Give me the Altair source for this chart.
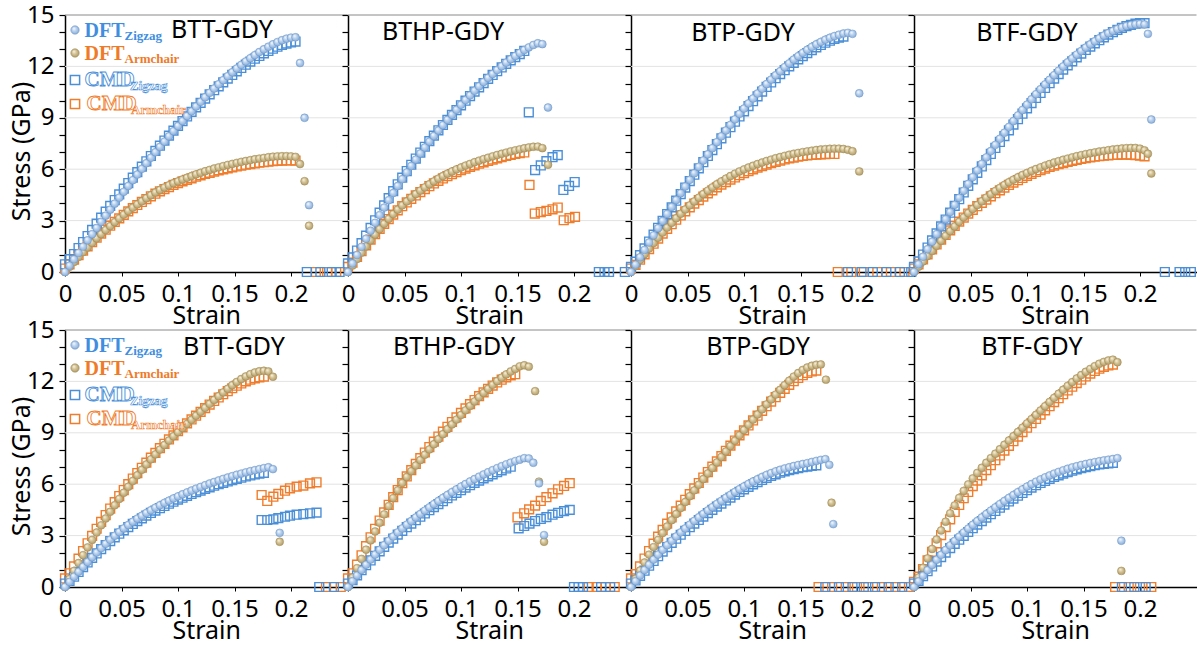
import altair as alt
import pandas as pd

# ---------------- data ----------------
STEP = 0.004  # strain increment of the simulations
X_TICKS = [0, 0.05, 0.1, 0.15, 0.2]
Y_TICKS = list(range(16))
GRID_Y = [3, 6, 9, 12]
NAMES = ["BTT-GDY", "BTHP-GDY", "BTP-GDY", "BTF-GDY"]

# ---- top row (loading along zigzag is the stiff one) ----
BTT_T_DFT_Z = [0, 0.37, 0.74, 1.11, 1.48, 1.85, 2.21, 2.57, 2.93, 3.29, 3.64, 3.99, 4.34, 4.68, 5.02, 5.36, 5.69, 6.02, 6.35, 6.67, 6.99, 7.30, 7.61, 7.92, 8.22, 8.52, 8.81, 9.10, 9.38, 9.66, 9.93, 10.20, 10.46, 10.71, 10.96, 11.20, 11.43, 11.66, 11.88, 12.09, 12.29, 12.48, 12.66, 12.84, 13.00, 13.15, 13.29, 13.42, 13.53, 13.62, 13.68, 13.70]
BTT_T_DFT_Z_TAIL_X = [0.208, 0.212, 0.216]
BTT_T_DFT_Z_TAIL_Y = [12.2, 9.0, 3.9]
BTT_T_DFT_A = [0, 0.30, 0.59, 0.88, 1.16, 1.43, 1.70, 1.96, 2.21, 2.45, 2.68, 2.91, 3.13, 3.35, 3.56, 3.76, 3.95, 4.13, 4.31, 4.48, 4.64, 4.79, 4.93, 5.06, 5.18, 5.29, 5.40, 5.50, 5.60, 5.70, 5.79, 5.88, 5.96, 6.04, 6.11, 6.18, 6.25, 6.31, 6.37, 6.43, 6.48, 6.53, 6.58, 6.62, 6.66, 6.70, 6.73, 6.75, 6.76, 6.76, 6.75, 6.72]
BTT_T_DFT_A_TAIL_X = [0.208, 0.212, 0.216]
BTT_T_DFT_A_TAIL_Y = [6.3, 5.3, 2.7]
BTT_T_CMD_Z = [0.45, 0.75, 1.05, 1.40, 1.75, 2.10, 2.46, 2.82, 3.17, 3.52, 3.86, 4.20, 4.53, 4.86, 5.19, 5.51, 5.83, 6.15, 6.46, 6.77, 7.07, 7.37, 7.67, 7.96, 8.25, 8.53, 8.81, 9.08, 9.35, 9.61, 9.87, 10.12, 10.37, 10.61, 10.84, 11.07, 11.29, 11.50, 11.71, 11.91, 12.10, 12.28, 12.45, 12.61, 12.76, 12.90, 13.03, 13.15, 13.25, 13.33, 13.40, 13.45]
BTT_T_CMD_Z_ZERO = [0.214, 0.226, 0.236, 0.243]
BTT_T_CMD_A = [0.2, 0.45, 0.72, 0.98, 1.24, 1.50, 1.75, 2.00, 2.24, 2.47, 2.70, 2.92, 3.13, 3.34, 3.54, 3.73, 3.91, 4.09, 4.26, 4.42, 4.57, 4.71, 4.84, 4.96, 5.08, 5.19, 5.29, 5.38, 5.47, 5.56, 5.64, 5.72, 5.79, 5.86, 5.93, 5.99, 6.05, 6.11, 6.16, 6.21, 6.26, 6.30, 6.34, 6.38, 6.41, 6.44, 6.47, 6.49, 6.50, 6.51, 6.51, 6.50]
BTT_T_CMD_A_ZERO = [0.222, 0.232, 0.240]

BTHP_T_DFT_Z = [0, 0.50, 0.99, 1.47, 1.94, 2.41, 2.87, 3.32, 3.76, 4.19, 4.61, 5.02, 5.42, 5.81, 6.19, 6.56, 6.92, 7.27, 7.61, 7.94, 8.26, 8.57, 8.88, 9.18, 9.47, 9.76, 10.04, 10.31, 10.58, 10.84, 11.09, 11.33, 11.56, 11.79, 12.01, 12.22, 12.42, 12.61, 12.79, 12.96, 13.11, 13.25, 13.35, 13.30]
BTHP_T_DFT_Z_TAIL_X = [0.177]
BTHP_T_DFT_Z_TAIL_Y = [9.6]
BTHP_T_DFT_A = [0, 0.38, 0.76, 1.13, 1.49, 1.84, 2.18, 2.50, 2.81, 3.10, 3.38, 3.64, 3.89, 4.12, 4.34, 4.55, 4.75, 4.94, 5.12, 5.29, 5.45, 5.60, 5.74, 5.87, 5.99, 6.10, 6.21, 6.31, 6.41, 6.50, 6.59, 6.67, 6.75, 6.83, 6.90, 6.97, 7.04, 7.10, 7.16, 7.22, 7.27, 7.31, 7.32, 7.23]
BTHP_T_DFT_A_TAIL_X = [0.177]
BTHP_T_DFT_A_TAIL_Y = [6.26]
BTHP_T_CMD_Z = [0.5, 0.85, 1.25, 1.68, 2.12, 2.57, 3.02, 3.46, 3.89, 4.31, 4.72, 5.12, 5.51, 5.89, 6.26, 6.62, 6.97, 7.31, 7.64, 7.96, 8.27, 8.58, 8.88, 9.17, 9.45, 9.73, 10.00, 10.27, 10.53, 10.78, 11.03, 11.27, 11.50, 11.72, 11.94, 12.15, 12.35, 12.54, 12.72, 12.90]
BTHP_T_CMD_Z_TAIL_X = [0.160, 0.1656, 0.1706, 0.1756, 0.181, 0.1856, 0.1906, 0.1956, 0.2006]
BTHP_T_CMD_Z_TAIL_Y = [9.32, 5.95, 6.22, 6.47, 6.70, 6.82, 4.79, 5.02, 5.25]
BTHP_T_CMD_Z_ZERO = [0.222, 0.227, 0.231, 0.245]
BTHP_T_CMD_A = [0.3, 0.55, 0.88, 1.22, 1.56, 1.89, 2.21, 2.52, 2.81, 3.09, 3.35, 3.60, 3.84, 4.06, 4.27, 4.47, 4.66, 4.84, 5.01, 5.17, 5.32, 5.46, 5.59, 5.71, 5.83, 5.94, 6.04, 6.14, 6.23, 6.32, 6.40, 6.48, 6.56, 6.63, 6.70, 6.77, 6.83, 6.89, 6.94, 6.98]
BTHP_T_CMD_A_TAIL_X = [0.1606, 0.1653, 0.1706, 0.1756, 0.181, 0.1856, 0.1909, 0.196, 0.2009]
BTHP_T_CMD_A_TAIL_Y = [5.08, 3.41, 3.50, 3.57, 3.66, 3.76, 3.02, 3.14, 3.22]

BTP_T_DFT_Z = [0, 0.43, 0.86, 1.29, 1.72, 2.14, 2.56, 2.98, 3.39, 3.80, 4.20, 4.60, 4.99, 5.38, 5.76, 6.14, 6.51, 6.87, 7.23, 7.58, 7.92, 8.26, 8.59, 8.91, 9.23, 9.54, 9.84, 10.13, 10.42, 10.70, 10.97, 11.23, 11.48, 11.72, 11.96, 12.18, 12.40, 12.60, 12.79, 12.97, 13.14, 13.29, 13.43, 13.56, 13.67, 13.77, 13.85, 13.92, 13.96, 13.90]
BTP_T_DFT_Z_TAIL_X = [0.202]
BTP_T_DFT_Z_TAIL_Y = [10.43]
BTP_T_DFT_A = [0, 0.35, 0.70, 1.04, 1.37, 1.69, 2.00, 2.30, 2.59, 2.87, 3.14, 3.40, 3.65, 3.89, 4.12, 4.34, 4.55, 4.75, 4.94, 5.12, 5.29, 5.45, 5.60, 5.74, 5.87, 5.99, 6.10, 6.20, 6.30, 6.39, 6.48, 6.56, 6.64, 6.71, 6.78, 6.84, 6.90, 6.95, 7.00, 7.04, 7.08, 7.12, 7.15, 7.17, 7.19, 7.20, 7.20, 7.18, 7.13, 7.05]
BTP_T_DFT_A_TAIL_X = [0.202]
BTP_T_DFT_A_TAIL_Y = [5.87]
BTP_T_CMD_Z = [0.3, 0.6, 0.98, 1.38, 1.78, 2.18, 2.58, 2.98, 3.38, 3.77, 4.16, 4.55, 4.93, 5.31, 5.68, 6.05, 6.41, 6.77, 7.12, 7.46, 7.80, 8.13, 8.45, 8.77, 9.08, 9.38, 9.68, 9.97, 10.25, 10.53, 10.80, 11.06, 11.31, 11.55, 11.78, 12.00, 12.21, 12.41, 12.60, 12.78, 12.95, 13.11, 13.25, 13.38, 13.50, 13.60, 13.68, 13.74]
BTP_T_CMD_Z_ZERO = [0.192, 0.204, 0.214, 0.226, 0.238, 0.248]
BTP_T_CMD_A = [0.2, 0.42, 0.72, 1.03, 1.34, 1.65, 1.95, 2.24, 2.52, 2.79, 3.05, 3.30, 3.54, 3.77, 3.99, 4.20, 4.40, 4.59, 4.77, 4.94, 5.10, 5.25, 5.39, 5.52, 5.65, 5.77, 5.88, 5.99, 6.09, 6.18, 6.27, 6.35, 6.43, 6.50, 6.57, 6.63, 6.68, 6.73, 6.77, 6.80, 6.83, 6.85, 6.87, 6.88, 6.89, 6.89]
BTP_T_CMD_A_ZERO = [0.183, 0.195, 0.206, 0.218, 0.230, 0.242]

BTF_T_DFT_Z = [0, 0.45, 0.89, 1.33, 1.77, 2.21, 2.65, 3.08, 3.50, 3.92, 4.33, 4.74, 5.14, 5.54, 5.93, 6.31, 6.69, 7.06, 7.42, 7.78, 8.13, 8.47, 8.81, 9.14, 9.46, 9.77, 10.08, 10.38, 10.67, 10.95, 11.22, 11.49, 11.75, 12.00, 12.24, 12.47, 12.69, 12.90, 13.10, 13.29, 13.47, 13.64, 13.80, 13.94, 14.07, 14.18, 14.28, 14.36, 14.42, 14.46, 14.48, 14.45]
BTF_T_DFT_Z_TAIL_X = [0.207, 0.210]
BTF_T_DFT_Z_TAIL_Y = [13.9, 8.9]
BTF_T_DFT_A = [0, 0.31, 0.62, 0.93, 1.23, 1.53, 1.82, 2.11, 2.39, 2.66, 2.93, 3.19, 3.44, 3.68, 3.91, 4.13, 4.34, 4.54, 4.73, 4.91, 5.08, 5.24, 5.39, 5.53, 5.66, 5.78, 5.90, 6.01, 6.11, 6.21, 6.30, 6.39, 6.47, 6.55, 6.62, 6.69, 6.76, 6.82, 6.88, 6.93, 6.98, 7.03, 7.07, 7.11, 7.15, 7.18, 7.21, 7.23, 7.24, 7.24, 7.20, 7.10]
BTF_T_DFT_A_TAIL_X = [0.207, 0.210]
BTF_T_DFT_A_TAIL_Y = [6.9, 5.75]
BTF_T_CMD_Z = [0.3, 0.62, 1.02, 1.43, 1.84, 2.25, 2.66, 3.06, 3.46, 3.86, 4.25, 4.64, 5.03, 5.41, 5.79, 6.16, 6.53, 6.89, 7.24, 7.59, 7.93, 8.27, 8.60, 8.92, 9.24, 9.55, 9.86, 10.16, 10.45, 10.74, 11.02, 11.29, 11.55, 11.81, 12.06, 12.30, 12.53, 12.75, 12.96, 13.16, 13.35, 13.53, 13.70, 13.86, 14.00, 14.13, 14.25, 14.35, 14.43, 14.49, 14.52, 14.52]
BTF_T_CMD_Z_ZERO = [0.222, 0.235, 0.240, 0.245]
BTF_T_CMD_A = [0.2, 0.45, 0.74, 1.03, 1.32, 1.61, 1.89, 2.16, 2.43, 2.69, 2.94, 3.18, 3.41, 3.63, 3.84, 4.04, 4.23, 4.42, 4.60, 4.77, 4.93, 5.08, 5.22, 5.36, 5.49, 5.61, 5.73, 5.84, 5.94, 6.04, 6.13, 6.21, 6.29, 6.36, 6.43, 6.49, 6.55, 6.60, 6.65, 6.69, 6.73, 6.76, 6.79, 6.81, 6.83, 6.84, 6.85, 6.85, 6.84, 6.82, 6.79, 6.75]

# ---- bottom row (armchair is the stiff one) ----
BTT_B_DFT_A = [0, 0.47, 0.94, 1.40, 1.86, 2.31, 2.75, 3.18, 3.60, 4.00, 4.39, 4.77, 5.14, 5.50, 5.85, 6.19, 6.52, 6.84, 7.15, 7.45, 7.74, 8.02, 8.29, 8.55, 8.80, 9.04, 9.28, 9.52, 9.76, 10.00, 10.23, 10.46, 10.69, 10.92, 11.14, 11.36, 11.57, 11.78, 11.97, 12.14, 12.29, 12.42, 12.52, 12.59, 12.62, 12.58, 12.27]
BTT_B_DFT_A_TAIL_X = [0.19]
BTT_B_DFT_A_TAIL_Y = [2.64]
BTT_B_DFT_Z = [0, 0.30, 0.60, 0.89, 1.18, 1.46, 1.74, 2.01, 2.27, 2.52, 2.76, 2.99, 3.21, 3.42, 3.62, 3.81, 3.99, 4.16, 4.32, 4.48, 4.63, 4.77, 4.91, 5.04, 5.17, 5.29, 5.41, 5.52, 5.63, 5.74, 5.84, 5.94, 6.04, 6.13, 6.22, 6.31, 6.39, 6.47, 6.55, 6.62, 6.69, 6.76, 6.82, 6.88, 6.94, 6.99, 6.88]
BTT_B_DFT_Z_TAIL_X = [0.19]
BTT_B_DFT_Z_TAIL_Y = [3.16]
BTT_B_CMD_A = [0.5, 0.8, 1.2, 1.65, 2.1, 2.55, 2.98, 3.4, 3.8, 4.2, 4.58, 4.95, 5.31, 5.66, 6.0, 6.33, 6.65, 6.96, 7.26, 7.55, 7.83, 8.1, 8.36, 8.61, 8.85, 9.09, 9.32, 9.55, 9.78, 10.0, 10.22, 10.44, 10.65, 10.86, 11.06, 11.25, 11.43, 11.6, 11.75, 11.88, 12.0, 12.1, 12.18, 12.24, 12.28]
BTT_B_CMD_A_TAIL_X = [0.174, 0.179, 0.1844, 0.1888, 0.1947, 0.1991, 0.205, 0.2109, 0.2168, 0.2226]
BTT_B_CMD_A_TAIL_Y = [5.37, 5.02, 5.27, 5.43, 5.62, 5.76, 5.86, 5.92, 6.05, 6.11]
BTT_B_CMD_A_ZERO = [0.231, 0.244]
BTT_B_CMD_Z = [0.2, 0.35, 0.6, 0.88, 1.16, 1.43, 1.7, 1.96, 2.21, 2.45, 2.68, 2.9, 3.11, 3.31, 3.5, 3.68, 3.85, 4.01, 4.17, 4.32, 4.46, 4.6, 4.73, 4.86, 4.98, 5.1, 5.21, 5.32, 5.43, 5.53, 5.63, 5.73, 5.82, 5.91, 6.0, 6.08, 6.16, 6.24, 6.31, 6.38, 6.45, 6.51, 6.57, 6.62, 6.66]
BTT_B_CMD_Z_TAIL_X = [0.174, 0.179, 0.1844, 0.1888, 0.1947, 0.1991, 0.205, 0.2109, 0.2168, 0.2226]
BTT_B_CMD_Z_TAIL_Y = [3.91, 3.91, 3.95, 4.02, 4.10, 4.16, 4.22, 4.26, 4.30, 4.34]
BTT_B_CMD_Z_ZERO = [0.225, 0.238]

BTHP_B_DFT_A = [0, 0.55, 1.10, 1.64, 2.18, 2.72, 3.24, 3.75, 4.24, 4.72, 5.19, 5.64, 6.07, 6.42, 6.76, 7.09, 7.41, 7.72, 8.03, 8.33, 8.63, 8.92, 9.21, 9.49, 9.77, 10.04, 10.31, 10.57, 10.83, 11.08, 11.33, 11.57, 11.80, 12.02, 12.22, 12.41, 12.58, 12.73, 12.88, 12.94, 12.86]
BTHP_B_DFT_A_TAIL_X = [0.1656, 0.169, 0.1735]
BTHP_B_DFT_A_TAIL_Y = [11.43, 6.15, 2.64]
BTHP_B_DFT_Z = [0, 0.34, 0.67, 0.99, 1.30, 1.60, 1.89, 2.17, 2.44, 2.70, 2.95, 3.19, 3.42, 3.64, 3.85, 4.06, 4.26, 4.46, 4.65, 4.84, 5.02, 5.20, 5.37, 5.54, 5.70, 5.86, 6.01, 6.16, 6.30, 6.44, 6.57, 6.70, 6.82, 6.94, 7.05, 7.16, 7.26, 7.35, 7.43, 7.52, 7.50, 7.25]
BTHP_B_DFT_Z_TAIL_X = [0.169, 0.1735]
BTHP_B_DFT_Z_TAIL_Y = [6.05, 3.03]
BTHP_B_CMD_A = [0.5, 0.8, 1.3, 1.85, 2.38, 2.9, 3.4, 3.88, 4.35, 4.8, 5.24, 5.66, 6.06, 6.45, 6.82, 7.18, 7.52, 7.85, 8.17, 8.48, 8.78, 9.07, 9.35, 9.63, 9.9, 10.16, 10.42, 10.67, 10.91, 11.14, 11.36, 11.57, 11.76, 11.94, 12.1, 12.24, 12.35, 12.42]
BTHP_B_CMD_A_TAIL_X = [0.150, 0.1559, 0.1603, 0.1656, 0.1706, 0.1756, 0.181, 0.1859, 0.1912, 0.1962]
BTHP_B_CMD_A_TAIL_Y = [4.07, 4.30, 4.53, 4.75, 5.02, 5.24, 5.47, 5.70, 5.90, 6.06]
BTHP_B_CMD_A_ZERO = [0.213, 0.220, 0.228, 0.236]
BTHP_B_CMD_Z = [0.2, 0.4, 0.68, 0.98, 1.27, 1.55, 1.82, 2.08, 2.34, 2.59, 2.83, 3.06, 3.28, 3.49, 3.7, 3.9, 4.1, 4.29, 4.48, 4.66, 4.84, 5.01, 5.18, 5.34, 5.5, 5.65, 5.8, 5.94, 6.08, 6.21, 6.34, 6.46, 6.58, 6.7, 6.81, 6.92, 7.02]
BTHP_B_CMD_Z_TAIL_X = [0.151, 0.1559, 0.1606, 0.1656, 0.1706, 0.1756, 0.181, 0.1859, 0.1912, 0.1962]
BTHP_B_CMD_Z_TAIL_Y = [3.42, 3.56, 3.70, 3.85, 3.97, 4.08, 4.22, 4.33, 4.43, 4.50]
BTHP_B_CMD_Z_ZERO = [0.200, 0.204, 0.208, 0.224, 0.232]

BTP_B_DFT_A = [0, 0.48, 0.96, 1.43, 1.89, 2.33, 2.75, 3.15, 3.53, 3.90, 4.26, 4.61, 4.96, 5.30, 5.64, 5.97, 6.30, 6.63, 6.95, 7.27, 7.59, 7.91, 8.23, 8.54, 8.85, 9.16, 9.47, 9.77, 10.07, 10.37, 10.66, 10.95, 11.23, 11.51, 11.78, 12.04, 12.28, 12.49, 12.67, 12.81, 12.91, 12.97, 12.99]
BTP_B_DFT_A_TAIL_X = [0.1725, 0.1775]
BTP_B_DFT_A_TAIL_Y = [12.1, 4.92]
BTP_B_DFT_Z = [0, 0.34, 0.67, 0.99, 1.30, 1.60, 1.89, 2.17, 2.44, 2.70, 2.95, 3.19, 3.42, 3.64, 3.86, 4.07, 4.27, 4.47, 4.66, 4.85, 5.03, 5.21, 5.38, 5.55, 5.71, 5.87, 6.02, 6.16, 6.29, 6.42, 6.54, 6.65, 6.75, 6.84, 6.92, 6.99, 7.06, 7.12, 7.18, 7.23, 7.30, 7.36, 7.42, 7.46]
BTP_B_DFT_Z_TAIL_X = [0.1755, 0.179]
BTP_B_DFT_Z_TAIL_Y = [7.13, 3.67]
BTP_B_CMD_A = [0.5, 0.75, 1.2, 1.66, 2.1, 2.53, 2.94, 3.33, 3.7, 4.06, 4.41, 4.75, 5.09, 5.42, 5.75, 6.07, 6.39, 6.71, 7.02, 7.33, 7.64, 7.95, 8.25, 8.55, 8.85, 9.14, 9.43, 9.72, 10.0, 10.28, 10.55, 10.82, 11.08, 11.33, 11.57, 11.8, 12.01, 12.2, 12.36, 12.49, 12.58, 12.63]
BTP_B_CMD_A_ZERO = [0.166, 0.178, 0.190, 0.200, 0.210, 0.222, 0.234, 0.246]
BTP_B_CMD_Z = [0.2, 0.38, 0.65, 0.95, 1.24, 1.52, 1.8, 2.07, 2.33, 2.58, 2.82, 3.05, 3.27, 3.49, 3.7, 3.91, 4.11, 4.31, 4.5, 4.69, 4.87, 5.05, 5.22, 5.39, 5.55, 5.7, 5.85, 5.99, 6.12, 6.25, 6.37, 6.48, 6.58, 6.67, 6.75, 6.82, 6.88, 6.94, 6.99, 7.03, 7.07, 7.1]
BTP_B_CMD_Z_ZERO = [0.172, 0.184, 0.196, 0.206, 0.216, 0.228, 0.240]

BTF_B_DFT_A = [0, 0.56, 1.12, 1.67, 2.22, 2.77, 3.30, 3.81, 4.30, 4.76, 5.20, 5.61, 5.99, 6.34, 6.66, 6.96, 7.25, 7.52, 7.78, 8.04, 8.30, 8.55, 8.80, 9.05, 9.30, 9.55, 9.80, 10.05, 10.30, 10.55, 10.80, 11.04, 11.28, 11.51, 11.74, 11.96, 12.17, 12.37, 12.56, 12.73, 12.89, 13.03, 13.14, 13.22, 13.27, 13.12]
BTF_B_DFT_A_TAIL_X = [0.1835]
BTF_B_DFT_A_TAIL_Y = [0.94]
BTF_B_DFT_Z = [0, 0.33, 0.66, 0.98, 1.29, 1.59, 1.88, 2.16, 2.43, 2.69, 2.94, 3.18, 3.41, 3.63, 3.85, 4.06, 4.26, 4.46, 4.65, 4.84, 5.02, 5.20, 5.37, 5.54, 5.70, 5.86, 6.01, 6.15, 6.28, 6.40, 6.51, 6.62, 6.72, 6.81, 6.90, 6.98, 7.05, 7.12, 7.18, 7.24, 7.29, 7.34, 7.39, 7.43, 7.47, 7.52]
BTF_B_DFT_Z_TAIL_X = [0.1835]
BTF_B_DFT_Z_TAIL_Y = [2.7]
BTF_B_CMD_A = [0.3, 0.6, 1.05, 1.55, 2.05, 2.55, 3.03, 3.5, 3.95, 4.38, 4.79, 5.18, 5.55, 5.89, 6.21, 6.52, 6.82, 7.11, 7.4, 7.68, 7.96, 8.24, 8.51, 8.78, 9.04, 9.3, 9.56, 9.81, 10.06, 10.31, 10.55, 10.79, 11.02, 11.25, 11.47, 11.69, 11.9, 12.1, 12.29, 12.46, 12.61, 12.74, 12.85, 12.93, 12.98]
BTF_B_CMD_A_ZERO = [0.178, 0.190, 0.200, 0.210]
BTF_B_CMD_Z = [0.2, 0.36, 0.63, 0.92, 1.2, 1.48, 1.75, 2.01, 2.27, 2.52, 2.76, 2.99, 3.21, 3.43, 3.64, 3.85, 4.05, 4.25, 4.44, 4.63, 4.81, 4.99, 5.16, 5.33, 5.49, 5.65, 5.8, 5.94, 6.07, 6.19, 6.31, 6.42, 6.52, 6.62, 6.71, 6.79, 6.87, 6.94, 7.0, 7.06, 7.11, 7.15, 7.19, 7.22, 7.25]
BTF_B_CMD_Z_ZERO = [0.184, 0.195, 0.205]

# ---------------- helpers ----------------
def series(vals, tail_x=(), tail_y=(), zeros=()):
    xs = [round(i * STEP, 4) for i in range(len(vals))] + list(tail_x) + list(zeros)
    ys = list(vals) + list(tail_y) + [0.0] * len(zeros)
    return pd.DataFrame({"strain": xs, "stress": ys})


PANELS_TOP = [
    dict(dz=series(BTT_T_DFT_Z, BTT_T_DFT_Z_TAIL_X, BTT_T_DFT_Z_TAIL_Y),
         da=series(BTT_T_DFT_A, BTT_T_DFT_A_TAIL_X, BTT_T_DFT_A_TAIL_Y),
         cz=series(BTT_T_CMD_Z, zeros=BTT_T_CMD_Z_ZERO),
         ca=series(BTT_T_CMD_A, zeros=BTT_T_CMD_A_ZERO)),
    dict(dz=series(BTHP_T_DFT_Z, BTHP_T_DFT_Z_TAIL_X, BTHP_T_DFT_Z_TAIL_Y),
         da=series(BTHP_T_DFT_A, BTHP_T_DFT_A_TAIL_X, BTHP_T_DFT_A_TAIL_Y),
         cz=series(BTHP_T_CMD_Z, BTHP_T_CMD_Z_TAIL_X, BTHP_T_CMD_Z_TAIL_Y, BTHP_T_CMD_Z_ZERO),
         ca=series(BTHP_T_CMD_A, BTHP_T_CMD_A_TAIL_X, BTHP_T_CMD_A_TAIL_Y)),
    dict(dz=series(BTP_T_DFT_Z, BTP_T_DFT_Z_TAIL_X, BTP_T_DFT_Z_TAIL_Y),
         da=series(BTP_T_DFT_A, BTP_T_DFT_A_TAIL_X, BTP_T_DFT_A_TAIL_Y),
         cz=series(BTP_T_CMD_Z, zeros=BTP_T_CMD_Z_ZERO),
         ca=series(BTP_T_CMD_A, zeros=BTP_T_CMD_A_ZERO)),
    dict(dz=series(BTF_T_DFT_Z, BTF_T_DFT_Z_TAIL_X, BTF_T_DFT_Z_TAIL_Y),
         da=series(BTF_T_DFT_A, BTF_T_DFT_A_TAIL_X, BTF_T_DFT_A_TAIL_Y),
         cz=series(BTF_T_CMD_Z, zeros=BTF_T_CMD_Z_ZERO),
         ca=series(BTF_T_CMD_A)),
]
PANELS_BOT = [
    dict(dz=series(BTT_B_DFT_Z, BTT_B_DFT_Z_TAIL_X, BTT_B_DFT_Z_TAIL_Y),
         da=series(BTT_B_DFT_A, BTT_B_DFT_A_TAIL_X, BTT_B_DFT_A_TAIL_Y),
         cz=series(BTT_B_CMD_Z, BTT_B_CMD_Z_TAIL_X, BTT_B_CMD_Z_TAIL_Y, BTT_B_CMD_Z_ZERO),
         ca=series(BTT_B_CMD_A, BTT_B_CMD_A_TAIL_X, BTT_B_CMD_A_TAIL_Y, BTT_B_CMD_A_ZERO)),
    dict(dz=series(BTHP_B_DFT_Z, BTHP_B_DFT_Z_TAIL_X, BTHP_B_DFT_Z_TAIL_Y),
         da=series(BTHP_B_DFT_A, BTHP_B_DFT_A_TAIL_X, BTHP_B_DFT_A_TAIL_Y),
         cz=series(BTHP_B_CMD_Z, BTHP_B_CMD_Z_TAIL_X, BTHP_B_CMD_Z_TAIL_Y, BTHP_B_CMD_Z_ZERO),
         ca=series(BTHP_B_CMD_A, BTHP_B_CMD_A_TAIL_X, BTHP_B_CMD_A_TAIL_Y, BTHP_B_CMD_A_ZERO)),
    dict(dz=series(BTP_B_DFT_Z, BTP_B_DFT_Z_TAIL_X, BTP_B_DFT_Z_TAIL_Y),
         da=series(BTP_B_DFT_A, BTP_B_DFT_A_TAIL_X, BTP_B_DFT_A_TAIL_Y),
         cz=series(BTP_B_CMD_Z, zeros=BTP_B_CMD_Z_ZERO),
         ca=series(BTP_B_CMD_A, zeros=BTP_B_CMD_A_ZERO)),
    dict(dz=series(BTF_B_DFT_Z, BTF_B_DFT_Z_TAIL_X, BTF_B_DFT_Z_TAIL_Y),
         da=series(BTF_B_DFT_A, BTF_B_DFT_A_TAIL_X, BTF_B_DFT_A_TAIL_Y),
         cz=series(BTF_B_CMD_Z, zeros=BTF_B_CMD_Z_ZERO),
         ca=series(BTF_B_CMD_A, zeros=BTF_B_CMD_A_ZERO)),
]

# ---------------- styling ----------------
W, H = 282.5, 257
FONT = "Noto Sans"
BLUE = "#4a8fd8"
ORANGE = "#f07d2c"
BLUE_TXT = "#3f8ee0"
ORANGE_TXT = "#ef7a28"

BLUE_BALL = alt.RadialGradient(
    gradient="radial", x1=0.35, y1=0.3, r1=0.0, x2=0.5, y2=0.5, r2=0.6,
    stops=[alt.GradientStop(offset=0, color="#ffffff"),
           alt.GradientStop(offset=0.45, color="#b7d1ee"),
           alt.GradientStop(offset=1, color="#7fa4d2")])
TAN_BALL = alt.RadialGradient(
    gradient="radial", x1=0.35, y1=0.3, r1=0.0, x2=0.5, y2=0.5, r2=0.6,
    stops=[alt.GradientStop(offset=0, color="#fff8e6"),
           alt.GradientStop(offset=0.45, color="#d3c295"),
           alt.GradientStop(offset=1, color="#a8935f")])

TITLE_POS_TOP = [(157, 15), (95, 17), (112, 18), (113, 18)]
TITLE_POS_BOT = [(169, 17), (106, 17), (127, 17), (118, 17)]


def enc_x():
    return alt.X("strain:Q",
                 scale=alt.Scale(domain=[0, 0.25], nice=False, zero=False),
                 axis=alt.Axis(values=X_TICKS, format="~g", title="Strain",
                               labelFontSize=24, titleFontSize=25,
                               labelFont=FONT, titleFont=FONT,
                               titleFontWeight="normal", labelColor="black",
                               titleColor="black", tickSize=4, tickColor="black",
                               domainColor="black", domainWidth=1.5,
                               labelPadding=6, titlePadding=-3, grid=False,
                               labelFlush=False, labelOverlap=False))


def enc_y(first):
    if first:
        ax = alt.Axis(values=Y_TICKS,
                      labelExpr="datum.value % 3 === 0 ? datum.label : ''",
                      title="Stress (GPa)", labelFontSize=24, titleFontSize=25,
                      labelFont=FONT, titleFont=FONT, titleFontWeight="normal",
                      labelColor="black", titleColor="black", tickSize=6,
                      tickColor="black", tickWidth=1.2, domainColor="black",
                      domainWidth=1.5, labelPadding=5, titlePadding=-8,
                      titleY=136, grid=False, labelOverlap=False, labelFlush=False)
    else:
        ax = alt.Axis(values=Y_TICKS, labels=False, title=None, tickSize=6,
                      tickColor="black", tickWidth=1.2, domainColor="black",
                      domainWidth=1.5, grid=False)
    return alt.Y("stress:Q", scale=alt.Scale(domain=[0, 15], nice=False), axis=ax)


def one_row():
    return pd.DataFrame({"k": [0]})


def legend_layers():
    layers = []
    sym = [(15, BLUE_BALL, "#6f97c8"), (38, TAN_BALL, "#a08a55")]
    for yy, fill, stroke in sym:
        layers.append(alt.Chart(one_row()).mark_point(
            shape="circle", filled=True, fill=fill, stroke=stroke, strokeWidth=0.6,
            size=70, opacity=1).encode(x=alt.value(10), y=alt.value(yy)))
    for yy, col in [(65, BLUE), (89, ORANGE)]:
        layers.append(alt.Chart(one_row()).mark_point(
            shape="square", filled=False, color=col, strokeWidth=1.5,
            size=85, opacity=1).encode(x=alt.value(10), y=alt.value(yy)))
    texts = [
        ("DFT", 19.5, 21.5, 20, BLUE_TXT, None), ("Zigzag", 59.5, 24.5, 13, BLUE_TXT, None),
        ("DFT", 19.5, 45, 20, ORANGE_TXT, None), ("Armchair", 59.5, 47.5, 13, ORANGE_TXT, None),
        ("CMD", 19.5, 71, 21, "white", BLUE), ("Zigzag", 65, 74.5, 13, "white", BLUE),
        ("CMD", 21.5, 95, 21, "white", ORANGE), ("Armchair", 66, 98.5, 13, "white", ORANGE),
    ]
    for txt, xx, yy, fs, fill, stroke in texts:
        kw = dict(text=txt, align="left", baseline="alphabetic", fontSize=fs,
                  font="Liberation Serif", fontWeight="bold", fill=fill)
        if stroke is not None:
            kw.update(stroke=stroke, strokeWidth=0.9 if fs > 14 else 0.6)
        layers.append(alt.Chart(one_row()).mark_text(**kw).encode(
            x=alt.value(xx), y=alt.value(yy)))
    return layers


def panel(p, name, tpos, first):
    ex, ey = enc_x(), enc_y(first)
    grid = alt.Chart(pd.DataFrame({"stress": GRID_Y})).mark_rule(
        color="#e3e3e3", strokeWidth=1).encode(y=ey)
    top = alt.Chart(pd.DataFrame({"stress": [15]})).mark_rule(
        color="#8a8a8a", strokeWidth=1).encode(y=ey, x=alt.value(0), x2=alt.value(W))
    ca = alt.Chart(p["ca"]).mark_point(shape="square", filled=False, color=ORANGE,
                                       strokeWidth=1.4, size=78, opacity=1).encode(x=ex, y=ey)
    cz = alt.Chart(p["cz"]).mark_point(shape="square", filled=False, color=BLUE,
                                       strokeWidth=1.4, size=78, opacity=1).encode(x=ex, y=ey)
    da = alt.Chart(p["da"]).mark_point(shape="circle", filled=True, fill=TAN_BALL,
                                       stroke="#a08a55", strokeWidth=0.5, size=62,
                                       opacity=1).encode(x=ex, y=ey)
    dz = alt.Chart(p["dz"]).mark_point(shape="circle", filled=True, fill=BLUE_BALL,
                                       stroke="#6f97c8", strokeWidth=0.5, size=62,
                                       opacity=1).encode(x=ex, y=ey)
    title = alt.Chart(one_row()).mark_text(
        text=name, fontSize=25, font=FONT, color="black", align="center",
        baseline="middle").encode(x=alt.value(tpos[0]), y=alt.value(tpos[1]))
    layers = [grid, top, ca, cz, da, dz, title]
    if first:
        layers += legend_layers()
    return alt.layer(*layers).properties(width=W, height=H)


panels = [panel(p, n, t, i == 0) for i, (p, n, t) in
          enumerate(zip(PANELS_TOP, NAMES, TITLE_POS_TOP))]
panels += [panel(p, n, t, i == 0) for i, (p, n, t) in
           enumerate(zip(PANELS_BOT, NAMES, TITLE_POS_BOT))]

chart = alt.concat(*panels, columns=4, bounds="flush",
                   spacing=alt.RowColnumber(row=58, column=0)).properties(
    padding={"left": 9, "top": 3, "right": 0, "bottom": 0},
    background="white",
).configure_view(stroke=None)

chart.save("out.html", embed_options={"renderer": "svg", "actions": False})
